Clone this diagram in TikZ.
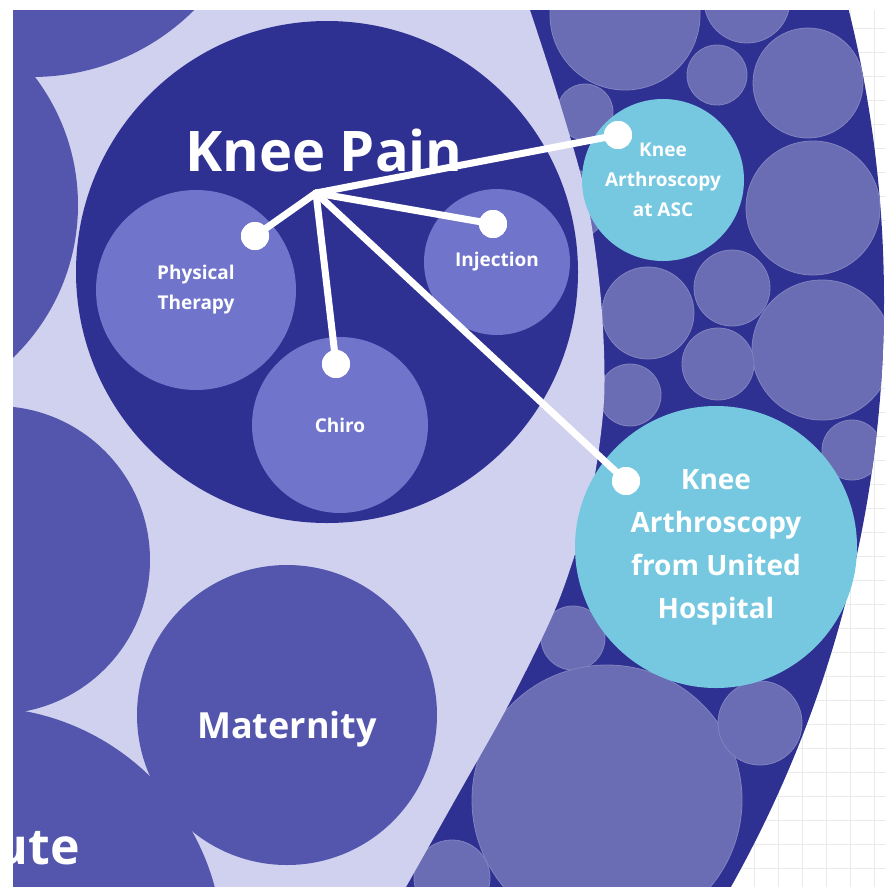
\documentclass[tikz,border=0pt]{standalone}
\usepackage{fontspec}
\setmainfont{Open Sans}
\definecolor{navy}{RGB}{46,49,146}
\definecolor{rc}{RGB}{107,109,180}
\definecolor{lav}{RGB}{208,209,239}
\definecolor{mc}{RGB}{83,86,172}
\definecolor{sub}{RGB}{112,116,202}
\definecolor{cy}{RGB}{117,200,224}
\definecolor{gridc}{RGB}{234,234,234}
\begin{document}
\begin{tikzpicture}[x=1pt,y=-1pt,
  bub/.style={circle,inner sep=0pt,text=white,align=center,font=\bfseries\fontsize{19}{30}\selectfont},
  lbl/.style={text=white,inner sep=0pt,font=\bfseries},
  dot/.style={circle,fill=white,inner sep=0pt,minimum size=28pt},
  link/.style={white,line width=7pt,line cap=round}]
\def\R{1200};
\useasboundingbox (0,0) rectangle (885,887);
\fill[white] (0,0) rectangle (885,887);
\foreach \gx in {706,730,...,885} \draw[gridc] (\gx,10) -- (\gx,887);
\foreach \gy in {28,52,...,887} \draw[gridc] (700,\gy) -- (885,\gy);

\begin{scope}
\clip (13,10) rectangle (885,887);
\fill[navy] (-316,300) circle[radius=\R];
\begin{scope}
\clip (-316,300) circle[radius=\R];
\foreach \cx/\cy/\cr in {625/15/75,747/0/43,717/75/30,808/83/55,585/112/28,572/205/35,
  813/208/67,648/313/46,732/288/38,822/350/70,718/364/36,630/395/31,852/450/30,
  573/638/32,607/800/135,760/723/42,452/878/38}
  \filldraw[fill=rc,draw=rc!85!white,line width=0.8pt] (\cx,\cy) circle[radius=\cr];
\end{scope}
\fill[lav] (13,10) -- plot[smooth] coordinates {(530,10) (559,100) (587,200) (601,300)
  (604,400) (590,500) (559,600) (511,700) (455,800) (406,887)} -- (13,887) -- cycle;
\foreach \cx/\cy/\cr in {32/-153/230,-134/205/212,-4/560/154,-20/950/243}
  \fill[mc] (\cx,\cy) circle[radius=\cr];
\end{scope}

\node[bub,fill=mc,minimum size=300pt] (M) at (287,715) {};
\node[bub,fill=navy,minimum size=502pt] (K) at (327,272) {};
\node[bub,fill=sub,minimum size=200pt] (PT) at (196,290) {Physical\\Therapy};
\node[bub,fill=sub,minimum size=176pt] (C) at (340,425) {Chiro};
\node[bub,fill=sub,minimum size=146pt] (I) at (497,262) {Injection};
\node[bub,fill=cy,minimum size=162pt] (A) at (663,180) {Knee\\Arthroscopy\\at ASC};
\node[bub,fill=cy,minimum size=282pt,font=\bfseries\fontsize{28}{43}\selectfont] (U) at (716,547)
  {Knee\\Arthroscopy\\from United\\Hospital};

\node[lbl,anchor=base,font=\bfseries\fontsize{56}{60}\selectfont] (tK) at (324,171) {Knee Pain};
\node[lbl,anchor=base,font=\bfseries\fontsize{36}{40}\selectfont] (tM) at (287,738) {Maternity};
\node[lbl,anchor=base east,font=\bfseries\fontsize{50}{50}\selectfont] (tA) at (80,864) {ute};

\coordinate (hub) at (316,193);
\node[dot] (dPT) at (255,236) {};
\node[dot] (dC) at (336,364) {};
\node[dot] (dI) at (493,224) {};
\node[dot] (dA) at (618,135) {};
\node[dot] (dU) at (626,481) {};
\draw[link] (hub) -- (dPT.center);
\draw[link] (hub) -- (dC.center);
\draw[link] (hub) -- (dI.center);
\draw[link] (hub) -- (dA.center);
\draw[link] (hub) -- (dU.center);
\node[dot] at (dPT) {};
\node[dot] at (dC) {};
\node[dot] at (dI) {};
\node[dot] at (dA) {};
\node[dot] at (dU) {};

\fill[white] (0,0) rectangle (885,9.5);
\fill[white] (0,0) rectangle (12.5,887);
\end{tikzpicture}
\end{document}
